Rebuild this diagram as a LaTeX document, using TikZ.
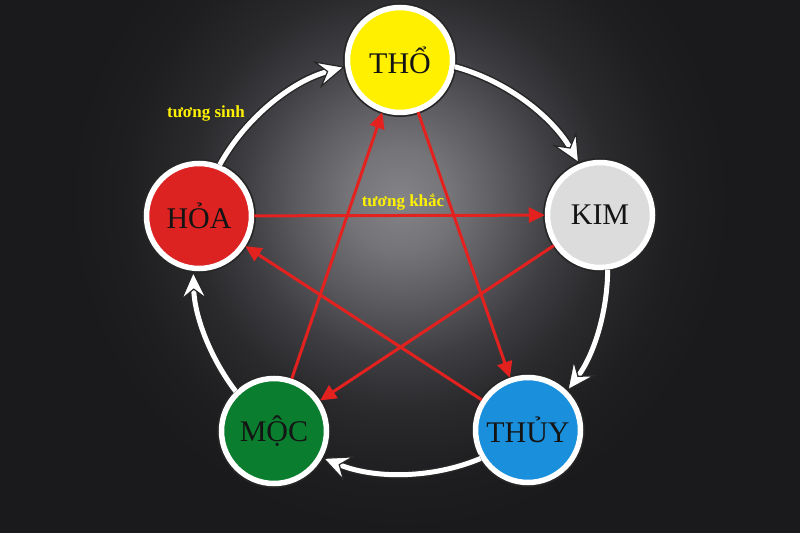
\documentclass[tikz,border=0pt]{standalone}
\usepackage{fontspec}
\setmainfont{Liberation Serif}
\usetikzlibrary{arrows.meta}
\definecolor{bgdark}{RGB}{26,26,28}
\definecolor{glowA}{RGB}{132,132,136}
\definecolor{glowB}{RGB}{116,116,120}
\definecolor{glowC}{RGB}{90,90,94}
\definecolor{glowD}{RGB}{62,62,66}
\definecolor{glowE}{RGB}{42,42,45}
\definecolor{glowF}{RGB}{30,30,32}
\definecolor{thoc}{RGB}{255,240,0}
\definecolor{kimc}{RGB}{220,220,220}
\definecolor{thuyc}{RGB}{26,144,220}
\definecolor{mocc}{RGB}{11,125,46}
\definecolor{hoac}{RGB}{220,35,34}
\definecolor{khacc}{RGB}{227,33,31}
\definecolor{labc}{RGB}{255,242,0}
\pgfdeclareradialshading{bgglow}{\pgfpoint{0bp}{0bp}}{color(0bp)=(glowA); color(4bp)=(glowB); color(8bp)=(glowC); color(12bp)=(glowD); color(16bp)=(glowE); color(21bp)=(glowF); color(25bp)=(bgdark); color(50bp)=(bgdark)}
\tikzset{
  elem/.style={circle, minimum size=105pt, inner sep=0pt, line width=5.5pt, draw=white,
    font=\fontsize{30}{30}\selectfont, text=black!92,
    preaction={draw=black!85, line width=9pt}},
  sinharrow/.style={draw=white, line width=5pt, looseness=0.88,
    -{Stealth[length=30pt,width=28pt,inset=11pt,line width=1.2pt,color=black!85,fill=white]},
    preaction={draw=black!85, line width=8pt, -, shorten >=20pt}},
  khacarrow/.style={draw=khacc, line width=3pt, -{Triangle[length=16pt,width=15pt]}},
  lab/.style={text=labc, font=\bfseries\fontsize{17}{17}\selectfont}
}
\begin{document}
\begin{tikzpicture}[x=1pt,y=1pt]
\useasboundingbox (0,0) rectangle (800,533);
\fill[bgdark] (0,0) rectangle (800,533);
\shade[shading=bgglow] (400,333) circle (330);

\node[elem, fill=thoc]  (THO)  at (400,473) {THỔ};
\node[elem, fill=kimc]  (KIM)  at (600,318) {KIM};
\node[elem, fill=thuyc] (THUY) at (528,103) {THỦY};
\node[elem, fill=mocc]  (MOC)  at (274,102) {MỘC};
\node[elem, fill=hoac]  (HOA)  at (199,317) {HỎA};

% tuong khac (red star)
\draw[khacarrow] (THO) -- (THUY);
\draw[khacarrow] (THUY) -- (HOA);
\draw[khacarrow] (HOA) -- (KIM);
\draw[khacarrow] (KIM) -- (MOC);
\draw[khacarrow] (MOC) -- (THO);

% tuong sinh (white cycle)
\draw[sinharrow] (HOA.68.4)   to[out=61,   in=195.3] (THO.187.6);
\draw[sinharrow] (THO.-7.6)   to[out=-15.3,in=120.1] (KIM.112.4);
\draw[sinharrow] (KIM.-82.9)  to[out=-90.5,in=53.4]  (THUY.45.7);
\draw[sinharrow] (THUY.-149.6) to[out=-157.2,in=-22.2] (MOC.-29.9);
\draw[sinharrow] (MOC.134.9)  to[out=127.2,in=-88.4] (HOA.-96);

\node[lab] (ls) at (206,420) {tương sinh};
\node[lab] (lk) at (403,331) {tương khắc};
\end{tikzpicture}
\end{document}
